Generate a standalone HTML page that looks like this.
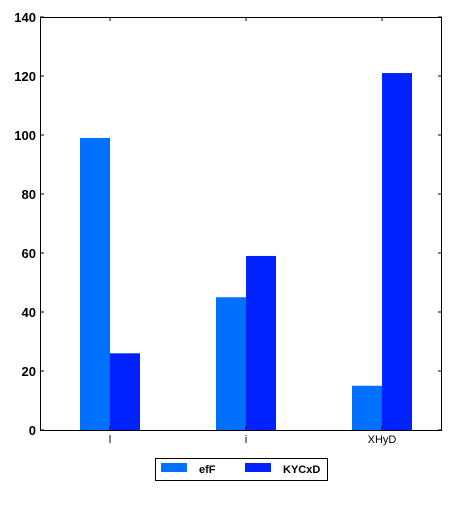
<!DOCTYPE html>
<html><head><meta charset="utf-8"><style>
body{margin:0;background:#fff;}
svg text{font-family:"Liberation Sans",sans-serif;}
</style></head><body>
<svg id="chart" width="455" height="520" xmlns="http://www.w3.org/2000/svg">
<g id="bars"></g>
<g id="axes"></g>
<g>
<rect x="155.5" y="458.5" width="172" height="22" fill="#fff" stroke="#000" stroke-width="1"/>
<rect x="161" y="463" width="26" height="9" fill="#0070ff"/>
<text x="199" y="473" font-size="11" font-weight="bold">efF</text>
<rect x="245" y="463" width="26" height="9" fill="#0022ff"/>
<text x="283" y="473" font-size="11" font-weight="bold">KYCxD</text>
</g>
</svg>
<script>
const categories = ["l", "i", "XHyD"];
const effValues = [99, 45, 15];
const kycxdValues = [26, 59, 121];
const yTicks = [0, 20, 40, 60, 80, 100, 120, 140];

const NS = "http://www.w3.org/2000/svg";
const L = 40, R = 442, T = 17, B = 430, YMAX = 140;
const y = v => B - (v / YMAX) * (B - T);
const step = 136;
const xc = i => 110 + step * i;
const bw = 30;
const bars = document.getElementById('bars');
const axes = document.getElementById('axes');
function mk(tag, attrs, parent) {
  const e = document.createElementNS(NS, tag);
  for (const k in attrs) e.setAttribute(k, attrs[k]);
  parent.appendChild(e);
  return e;
}
categories.forEach((c, i) => {
  const a = mk('rect', {x: xc(i) - bw, y: y(effValues[i]), width: bw, height: B - y(effValues[i]), fill: '#0070ff'}, bars);
  
  
  const b = mk('rect', {x: xc(i), y: y(kycxdValues[i]), width: bw, height: B - y(kycxdValues[i]), fill: '#0022ff'}, bars);
  
  
  const t = mk('text', {x: xc(i), y: B + 13, 'font-size': 11, 'text-anchor': 'middle'}, axes);
  t.textContent = c;
  
  
  mk('line', {x1: xc(i), x2: xc(i), y1: B, y2: B - 4, stroke: '#000'}, axes);
  mk('line', {x1: xc(i), x2: xc(i), y1: T, y2: T + 4, stroke: '#000'}, axes);
});
yTicks.forEach(v => {
  const t = mk('text', {x: L - 4, y: y(v) + 5, 'font-size': 13, 'font-weight': 'bold', 'text-anchor': 'end'}, axes);
  t.textContent = v;
  
  
  mk('line', {x1: L, x2: L + 4, y1: y(v), y2: y(v), stroke: '#000'}, axes);
  mk('line', {x1: R, x2: R - 4, y1: y(v), y2: y(v), stroke: '#000'}, axes);
});
const f = mk('rect', {x: L + 0.5, y: T + 0.5, width: R - L - 1, height: B - T, fill: 'none', stroke: '#000', 'stroke-width': 1}, axes);


</script>
</body></html>
